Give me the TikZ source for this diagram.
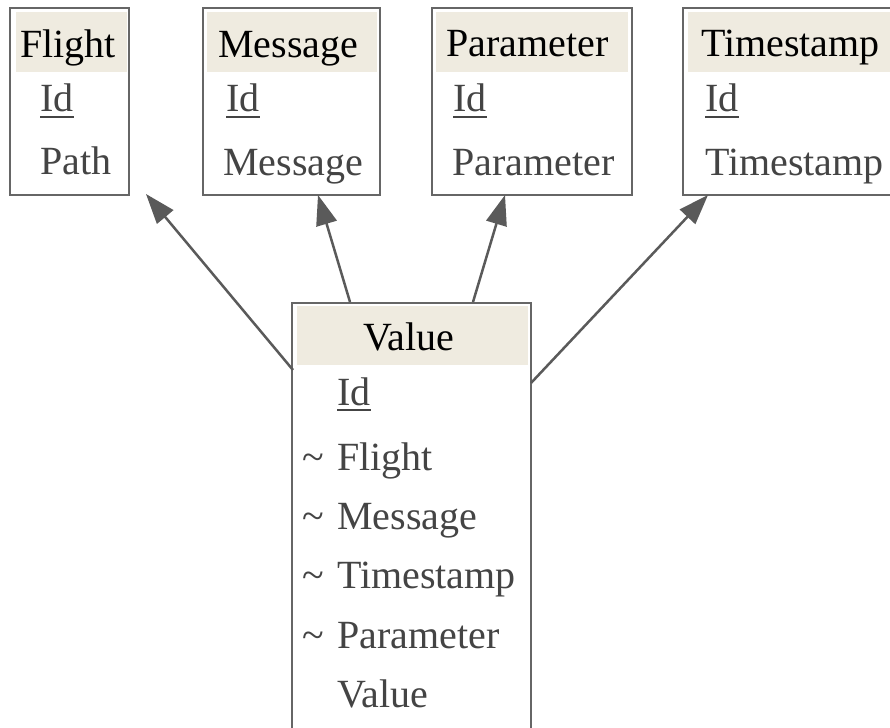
\documentclass[tikz,border=0pt]{standalone}
\usepackage{fontspec}
\setmainfont{Liberation Serif}
\usetikzlibrary{arrows.meta}
\definecolor{bordergray}{HTML}{666666}
\definecolor{hdrfill}{HTML}{EFEBE0}
\definecolor{bodytext}{HTML}{444444}
\definecolor{arrowgray}{HTML}{5A5A5A}
\newcommand\myul[1]{\setbox0\hbox{#1}\rlap{\color{bodytext}\rule[-6pt]{\wd0}{2pt}}\box0}
\tikzset{
  tbox/.style={draw=bordergray, line width=2.5pt, anchor=north west, inner sep=0pt, outer sep=0pt},
  hdr/.style={fill=hdrfill, anchor=north west, inner sep=0pt, outer sep=0pt},
  htext/.style={anchor=base west, inner sep=0pt, font=\fontsize{40}{48}\selectfont, text=black},
  btext/.style={anchor=base west, inner sep=0pt, font=\fontsize{40}{48}\selectfont, text=bodytext},
  rel/.style={draw=arrowgray, line width=2.5pt, -{Triangle[length=30pt,width=21pt]}}
}
\begin{document}
\begin{tikzpicture}[x=1pt,y=-1pt]
\useasboundingbox (0,0) rectangle (890,727);
\clip (0,0) rectangle (890,727);
\fill[white] (0,0) rectangle (890,727);
% Flight
\node[hdr, minimum width=111pt, minimum height=60pt] (flighth) at (16,12) {};
\node[tbox, minimum width=119pt, minimum height=187pt] (flight) at (10,8) {};
\node[htext] (flightT) at (20,58) {Flight};
\node[btext] (flightId) at (40,112) {\myul{Id}};
\node[btext] (flightPath) at (40,175) {Path};
% Message
\node[hdr, minimum width=170pt, minimum height=60pt] (messageh) at (207,12) {};
\node[tbox, minimum width=177pt, minimum height=187pt] (message) at (203,8) {};
\node[htext] (messageT) at (218,58) {Message};
\node[btext] (messageId) at (226,112) {\myul{Id}};
\node[btext] (messageM) at (223,176) {Message};
% Parameter
\node[hdr, minimum width=192pt, minimum height=60pt] (parameterh) at (436,12) {};
\node[tbox, minimum width=200pt, minimum height=187pt] (parameter) at (432,8) {};
\node[htext] (parameterT) at (446,57) {Parameter};
\node[btext] (parameterId) at (453,112) {\myul{Id}};
\node[btext] (parameterP) at (452,176) {Parameter};
% Timestamp
\node[hdr, minimum width=210pt, minimum height=60pt] (timestamph) at (688,12) {};
\node[tbox, minimum width=220pt, minimum height=187pt] (timestamp) at (683,8) {};
\node[htext] (timestampT) at (701,57) {Timestamp};
\node[btext] (timestampId) at (705,112) {\myul{Id}};
\node[btext] (timestampTS) at (705,176) {Timestamp};
% Value
\node[hdr, minimum width=231pt, minimum height=59pt] (valueh) at (297,306) {};
\node[tbox, minimum width=239pt, minimum height=450pt] (value) at (292,303) {};
\node[htext] (valueT) at (363,350) {Value};
\node[btext] (valueId) at (337,405) {\myul{Id}};
\node[btext] (tl1) at (302,470) {\textasciitilde};
\node[btext] (valueF) at (337,470) {Flight};
\node[btext] (tl2) at (302,529) {\textasciitilde};
\node[btext] (valueM) at (337,529) {Message};
\node[btext] (tl3) at (302,588) {\textasciitilde};
\node[btext] (valueTS) at (337,588) {Timestamp};
\node[btext] (tl4) at (302,648) {\textasciitilde};
\node[btext] (valueP) at (337,648) {Parameter};
\node[btext] (valueV) at (337,707) {Value};
% connectors
\coordinate (s1) at (293,370);
\coordinate (e1) at (146,194);
\coordinate (s2) at (350,302);
\coordinate (e2) at (318,195);
\coordinate (s3) at (473,302);
\coordinate (e3) at (505,195);
\coordinate (s4) at (531,383);
\coordinate (e4) at (708,195);
\draw[rel] (s1) -- (e1);
\draw[rel] (s2) -- (e2);
\draw[rel] (s3) -- (e3);
\draw[rel] (s4) -- (e4);
\end{tikzpicture}
\end{document}
